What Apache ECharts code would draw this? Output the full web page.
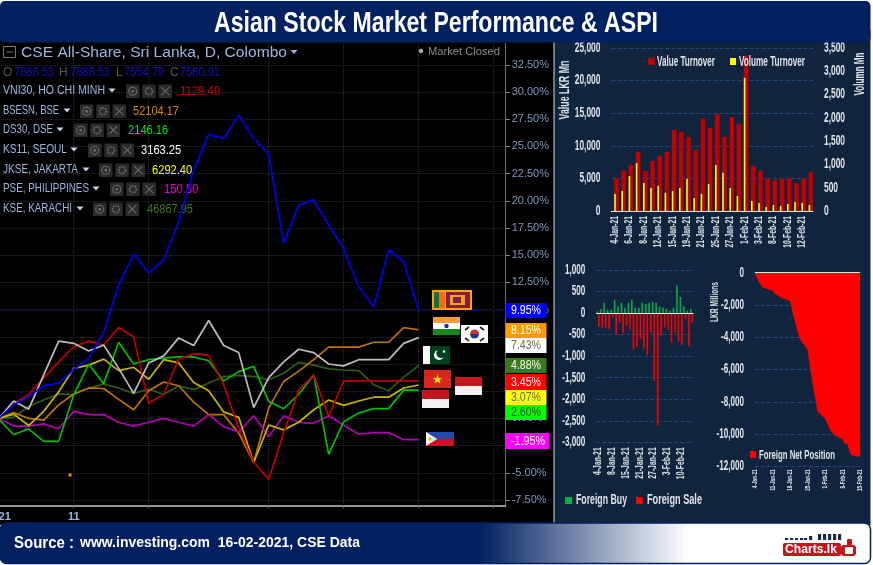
<!DOCTYPE html>
<html><head><meta charset="utf-8">
<style>html,body{margin:0;padding:0;background:#fff;overflow:hidden}#c{width:873px;height:565px}</style>
<script src="https://cdn.jsdelivr.net/npm/echarts@6/dist/echarts.min.js"></script>
</head><body><div id="c"></div>
<script>
// ---------- DATA ----------
const mainYTicks = [32.5,30,27.5,25,22.5,20,17.5,15,12.5,10,7.5,5,2.5,0,-2.5,-5,-7.5];
const mainXLabels = ['21','11'];
const cse   = [0,1.25,2,3,3.25,4.5,5.5,7.9,12.26,15.1,13.37,14.56,18.05,22.8,26.1,25.75,27.87,25.75,24.3,16.1,19.6,20.1,17.8,15.6,12.1,10.25,15.5,14.4,9.95];
const vni   = [0,1.35,2.2,3.7,5.2,6.6,7.1,6.75,8.35,7.5,1.4,2.2,5.45,5.95,5.8,3.1,-0.9,-4,-5.6,-1.35,2.6,4,0.2,3.45,3.45,3.45,3.45,3.45,3.45];
const bsesn = [0,0.55,0,-0.15,1.25,2.25,2.8,2.75,1.75,0.8,2.55,3.35,3,1.5,0.35,0.35,-1.35,-4.05,0.95,3.4,4.35,5.4,6.55,6.55,6.55,7,7,8.35,8.15];
const ds30  = [-0.05,-1.5,-0.95,-2.1,-2.1,2.15,5,3.2,7,5,5.4,5.55,5.65,5.65,5.3,3.45,4.3,4.8,1.55,0.9,2.2,4,-3.3,-0.3,0.5,0.9,0.9,2.6,2.6];
const ks11  = [0,1.6,0.85,4,7.1,6.9,6.2,6.75,4.6,2.3,5.1,5.75,7.4,6.7,9,6.7,6.05,1,3.75,5.2,6.36,6.05,5,4.83,5.4,5.4,5.4,6.9,7.43];
const jkse  = [0,0.4,-0.65,0.65,2.45,4.6,4.9,5.45,4.4,4.7,3.6,5.4,5.1,3.3,2.55,0.6,0.1,-4.05,-0.6,-1.05,-0.35,0.8,1.7,1.2,1.6,1.95,1.95,2.8,3.07];
const pse   = [0,-0.7,-0.7,-0.5,-0.95,0.65,0.35,0.35,-0.35,-0.7,-0.35,0,-0.35,-0.7,0.35,-0.75,-1.25,0.25,-1.65,0.25,-0.35,-0.45,0.25,-0.6,-1.45,-1.3,-1.3,-1.95,-1.95];
const kse   = [0,0.1,1.1,1.7,2.25,2.2,2.8,3.15,2.8,2.3,2.7,2.2,3,2.65,3.25,3.85,3.95,3.85,3.55,4.15,5.15,4.9,4.55,4.45,4.4,3.1,2.55,3.8,4.88];

const tradeDates = ['4-Jan-21','5-Jan-21','6-Jan-21','7-Jan-21','8-Jan-21','11-Jan-21','12-Jan-21','14-Jan-21','15-Jan-21','18-Jan-21','19-Jan-21','20-Jan-21','21-Jan-21','22-Jan-21','25-Jan-21','26-Jan-21','27-Jan-21','29-Jan-21','1-Feb-21','2-Feb-21','3-Feb-21','5-Feb-21','8-Feb-21','9-Feb-21','10-Feb-21','11-Feb-21','12-Feb-21','15-Feb-21'];
const valueTurnover = [5000,6200,7100,9050,6150,7700,8450,9050,12450,12150,11350,9350,14150,12750,14850,11350,14450,13350,23800,6900,6150,5000,4750,4950,5000,4300,5000,6000];
const volumeTurnover = [365,430,750,1030,600,495,540,390,430,495,690,280,365,580,990,820,495,320,2860,215,170,85,130,110,150,195,170,130];
const foreignBuy = [40,95,235,80,80,310,150,240,125,240,310,125,125,240,210,240,265,240,150,125,100,55,125,640,375,150,55,100];
const foreignSale = [-320,-350,-335,-380,-110,-505,-220,-460,-295,-380,-850,-790,-600,-825,-975,-450,-1575,-2610,-515,-330,-390,-685,-450,-660,-740,-130,-765,-225];
const netDates = ['4-Jan-21','5-Jan-21','6-Jan-21','7-Jan-21','8-Jan-21','9-Jan-21','10-Jan-21','11-Jan-21','12-Jan-21','13-Jan-21','14-Jan-21','15-Jan-21','16-Jan-21','17-Jan-21','18-Jan-21','19-Jan-21','20-Jan-21','21-Jan-21','22-Jan-21','23-Jan-21','24-Jan-21','25-Jan-21','26-Jan-21','27-Jan-21','28-Jan-21','29-Jan-21','30-Jan-21','31-Jan-21','1-Feb-21','2-Feb-21','3-Feb-21','4-Feb-21','5-Feb-21','6-Feb-21','7-Feb-21','8-Feb-21','9-Feb-21','10-Feb-21','11-Feb-21','12-Feb-21','13-Feb-21','14-Feb-21','15-Feb-21'];
const netPosition = [-50,-400,-680,-910,-970,null,null,-1120,-1320,null,-1500,-1590,null,null,-1750,-2450,-3040,-3680,-4130,null,null,-4770,-5860,-6860,null,-8600,null,null,-9050,-9400,-9750,null,-10100,null,null,-10330,-10640,-10600,-11200,-11330,null,null,-11420];
const valueTicks = [0,5000,10000,15000,20000,25000];
const volumeTicks = [0,500,1000,1500,2000,2500,3000,3500];
const flowTicks = [1000,500,0,-500,-1000,-1500,-2000,-2500,-3000];
const netTicks = [0,-2000,-4000,-6000,-8000,-10000,-12000];

const plain = '"Liberation Sans",Arial,sans-serif';
const navy = '#10243e', headerBlue = '#012060', dash = '#1f4a78', lbl = '#dfe4ea';

// ---------- HELPERS FOR DECORATION ----------
const mctx = document.createElement('canvas').getContext('2d');
const fitScale = (t,font,w)=>{mctx.font=font;return w/mctx.measureText(t).width;};
const g = [];
const rect = (x,y,w,h,fill,z=60,extra={}) => g.push({type:'rect',shape:{x,y,width:w,height:h,...(extra.shape||{})},style:{fill,...(extra.style||{})},z,silent:true});
// text squeezed to the pixel width
const text = (x,y,t,font,fill,w,z=60,extra={}) => g.push({type:'text',x,y,scaleX:w?fitScale(t,font,w):1,style:{text:t,font,fill,textVerticalAlign:'middle',textAlign:'left',...extra},z,silent:true});
const line = (x1,y1,x2,y2,stroke,w=1,z=60,dash_) => g.push({type:'line',shape:{x1,y1,x2,y2},style:{stroke,lineWidth:w,lineDash:dash_},z,silent:true});
const caret = (x,y,fill) => g.push({type:'polygon',shape:{points:[[x-3.5,y-2],[x+3.5,y-2],[x,y+2]]},style:{fill},z:60,silent:true});
const circ = (cx,cy,r,style,z=62)=>g.push({type:'circle',shape:{cx,cy,r},style,z,silent:true});
const vtext = (x,y,t,font,fill,len) => g.push({type:'text',x,y,rotation:Math.PI/2,scaleX:fitScale(t,font,len),style:{text:t,font,fill,textAlign:'center',textVerticalAlign:'middle'},z:60,silent:true});

// panels
rect(0,0,873,565,'#fff',-6);
rect(0,30,554,495,'#000',-5);
rect(554,30,316.5,495,navy,-4);
line(554,40,554,523,'#d8dde4',1,-3);
// header
rect(0,1,870.5,41.5,headerBlue,70,{shape:{r:5}});
text(214,24,'Asian Stock Market Performance & ASPI','bold 30px '+plain,'#fff',444,71);
// footer
g.push({type:'rect',shape:{x:0.5,y:523,width:870,height:40.5,r:6},style:{stroke:headerBlue,lineWidth:1.5,fill:{type:'linear',x:0,y:0,x2:1,y2:0,colorStops:[{offset:0,color:headerBlue},{offset:0.55,color:headerBlue},{offset:0.79,color:'#ffffff'},{offset:1,color:'#ffffff'}]}},z:70,silent:true});
text(14,543,'Source :','bold 17px '+plain,'#fff',60,71);
text(80,543,'www.investing.com  16-02-2021, CSE Data','bold 15px '+plain,'#fff',280,71);
// logo
[[785,2],[790,2],[795,2],[800,2],[804,2],[818,6],[823,6],[828,6],[833,6],[838,6],[809,4]].forEach(b=>rect(b[0],540-b[1],3.2,b[1],'#1f2a44',71));
rect(783,543,58,13,'#c4161c',71,{shape:{r:2}});
text(785,549.8,'Charts.lk','bold 13px '+plain,'#fff',52,72);
rect(841,545,15,11,'#c4161c',71,{shape:{r:3}});
rect(845,547,8,7,'#fff',72,{shape:{r:1}});
rect(847,539,5,7,'#c4161c',71,{shape:{r:1}});

// main panel text
rect(3.5,46.5,12,11,'rgba(0,0,0,0)',60,{style:{stroke:'#777',lineWidth:1}});
line(6,52,13,52,'#777',1);
text(21,52.5,'CSE All-Share, Sri Lanka, D, Colombo','15.5px '+plain,'#9db6df',266);
caret(294,52,'#9db6df');
circ(421,51,2.2,{fill:'#aaa'},60);
text(428,52,'Market Closed','11.5px '+plain,'#8c8c8c',72);
[['O',3,'7888.53',14],['H',59,'7888.53',70],['L',116,'7554.79',124],['C',170,'7580.91',180]].forEach(r=>{
  text(r[1],73,r[0],'12px '+plain,'#555');
  text(r[3],73,r[2],'12px '+plain,'#1010c0',40,3);
});
const rows = [
 ['VNI30, HO CHI MINH',91,102,112,126,180,'1129.49','#d00000'],
 ['BSESN, BSE',111,56,67,80,133,'52104.17','#d88a00'],
 ['DS30, DSE',130,50,60,74,128,'2146.16','#10e010'],
 ['KS11, SEOUL',150,64,74,88,141,'3163.25','#ffffff'],
 ['JKSE, JAKARTA',170,75,86,99,152,'6292.40','#ffff00'],
 ['PSE, PHILIPPINES',189,86,96,110,164,'150.50','#e000d0'],
 ['KSE, KARACHI',209,69,80,93,147,'46867.95','#3d7a1c']
];
rows.forEach(r=>{
  text(3,r[1],r[0],'12px '+plain,'#9db6df',r[2]);
  caret(r[3],r[1]-0.5,'#c4d4ec');
  for(let k=0;k<3;k++){
    const bx=r[4]+k*16.3;
    rect(bx,r[1]-6.5,13.5,13.5,'#2b2b2b');
    const cx=bx+6.7, cy=r[1]+0.2;
    if(k===0){circ(cx,cy,4,{fill:'none',stroke:'#6a6a6a',lineWidth:1.1},61);circ(cx,cy,1.5,{fill:'#6a6a6a'},61);}
    else if(k===1){circ(cx,cy,3.4,{fill:'none',stroke:'#6a6a6a',lineWidth:1.8,lineDash:[1.5,1]},61);}
    else {line(cx-4,cy-4,cx+4,cy+4,'#6a6a6a',1.1,61);line(cx-4,cy+4,cx+4,cy-4,'#6a6a6a',1.1,61);}
  }
  text(r[5],r[1]+0.5,r[6],'12px '+plain,r[7],r[6].length*5.75,3);
});
rect(68.5,473.5,3,3,'#e8940a',60);

// badges
[[303,41,15,'#0000ff','#fff','9.95%'],[323,41,15,'#ff9900','#fff','8.15%'],[338,41,15,'#ffffff','#666','7.43%'],
 [358,41,15,'#3a7a1a','#fff','4.88%'],[374,41,16,'#ff0000','#fff','3.45%'],[390,41,15,'#ffff00','#666','3.07%'],
 [405,41,15,'#00ff00','#444','2.60%'],[433,44,16,'#ff00ff','#fff','-1.95%']].forEach(b=>{
  rect(505.5,b[0],b[1],b[2],b[3],62);
  text(511,b[0]+b[2]/2+0.5,b[5],'12px '+plain,b[4],b[5].length===6?34:30,63);
});

// flags
function flagLK(x,y){rect(x,y,40,20,'#ffa500');rect(x+2,y+2,5,16,'#00734f',61);rect(x+7,y+2,6,16,'#ff6a13',61);rect(x+14,y+2,24,16,'#8d1b3d',61);rect(x+18,y+5,15,10,'#e8a81c',62);rect(x+21,y+7,8,6,'#8d1b3d',63);}
function flagIN(x,y){rect(x,y,27,6,'#ff9a3c');rect(x,y+6,27,6,'#fff');rect(x,y+12,27,6,'#148a1c');circ(x+13.5,y+9,2.2,{fill:'#2a2a90'});}
function flagKR(x,y){rect(x,y,27,18,'#fff');g.push({type:'sector',shape:{cx:x+13.5,cy:y+9,r:4.5,r0:0,startAngle:Math.PI,endAngle:2*Math.PI},style:{fill:'#cd2e3a'},z:62,silent:true});g.push({type:'sector',shape:{cx:x+13.5,cy:y+9,r:4.5,r0:0,startAngle:0,endAngle:Math.PI},style:{fill:'#0f3d8c'},z:62,silent:true});line(x+4,y+5,x+8,y+2,'#222',1.6,62);line(x+19,y+2,x+23,y+5,'#222',1.6,62);line(x+4,y+13,x+8,y+16,'#222',1.6,62);line(x+19,y+16,x+23,y+13,'#222',1.6,62);}
function flagPK(x,y){rect(x,y,7,18,'#fff');rect(x+7,y,20,18,'#01411c');circ(x+16,y+9,5,{fill:'#fff'});circ(x+18,y+7.5,4.6,{fill:'#01411c'},63);circ(x+21,y+5.5,1.2,{fill:'#fff'},64);}
function flagVN(x,y){rect(x,y,27,18,'#da251d');const pts=[];for(let k=0;k<10;k++){const R=k%2?2:5,a=-Math.PI/2+k*Math.PI/5;pts.push([x+13.5+R*Math.cos(a),y+9.5+R*Math.sin(a)]);}g.push({type:'polygon',shape:{points:pts},style:{fill:'#ffe000'},z:62,silent:true});}
function flagID(x,y){rect(x,y,27,9,'#c4161c');rect(x,y+9,27,9,'#f2f2f2');}
function flagPH(x,y){rect(x,y,28,7,'#2449a8');rect(x,y+7,28,7,'#ce1126');g.push({type:'polygon',shape:{points:[[x,y],[x+11,y+7],[x,y+14]]},style:{fill:'#fff'},z:62,silent:true});circ(x+4,y+7,2,{fill:'#f5c518'},63);}
flagLK(432,290);flagIN(433,317);flagKR(461,325);flagPK(423,346);flagVN(424,370);flagID(455,377);flagID(422,390);flagPH(426,432);

// legends and axis titles of the panels
const legendFont='bold 14px '+plain;
rect(648,58,7,7,'#c00000');text(657,62,'Value Turnover',legendFont,lbl,58);
rect(730,58,6,7,'#ffff00');text(739,62,'Volume Turnover',legendFont,lbl,66);
rect(565,497,7,7,'#00b050');text(576,500.5,'Foreign Buy',legendFont,lbl,51);
rect(636,497,7,7,'#ff0000');text(647,500.5,'Foreign Sale',legendFont,lbl,55);
rect(750,451,6,7,'#ff0000');text(759,455,'Foreign Net Position','bold 13px '+plain,lbl,76);
vtext(565,90,'Value LKR Mn','bold 14px '+plain,lbl,59);
vtext(860,74,'Volumn Mn','bold 14px '+plain,lbl,43);
vtext(715,302,'LKR Millions','bold 11px '+plain,lbl,40);

// ---------- CHART ----------
const lineS = (name,data,color)=>({name,type:'line',xAxisIndex:0,yAxisIndex:0,data:data.map((v,i)=>[i,v]),showSymbol:false,symbol:'none',lineStyle:{color,width:1.7},itemStyle:{color},silent:true,clip:false,z:3});
const numFmt = v=>Number(v).toLocaleString('en-US');
// tick labels squeezed to the reference's condensed face, placed through the axes' own scales
const yLabels = (xi,yi,ticks,side,fontPx,sx,gap=11)=>({type:'custom',xAxisIndex:xi,yAxisIndex:yi,silent:true,z:5,clip:false,
  data:ticks.map(t=>[0,t]),
  renderItem:(p,api)=>{const c=p.coordSys,y=api.coord([0,api.value(1)])[1];
    return {type:'text',x:side==='left'?c.x-gap:c.x+c.width+gap,y,scaleX:sx,
      style:{text:numFmt(api.value(1)),font:'bold '+fontPx+'px '+plain,fill:lbl,textAlign:side==='left'?'right':'left',textVerticalAlign:'middle'}};}});
const xLabels = (xi,yi,names,step,fontPx,sx,gap)=>({type:'custom',xAxisIndex:xi,yAxisIndex:yi,silent:true,z:5,clip:false,
  data:names.map((n,i)=>i).filter(i=>i%step===0).map(i=>[i,0]),
  renderItem:(p,api)=>{const c=p.coordSys,x=api.coord([api.value(0),0])[0];
    return {type:'text',x,y:c.y+c.height+gap,rotation:Math.PI/2,scaleX:sx,
      style:{text:names[api.value(0)],font:'bold '+fontPx+'px '+plain,fill:lbl,textAlign:'right',textVerticalAlign:'middle'}};}});
const hidden = {axisLine:{show:false},axisTick:{show:false},axisLabel:{show:false}};
const option = {
  animation:false,backgroundColor:'#000',
  graphic:{elements:g},
  grid:[
    {left:-1.3,top:43,width:507,height:462.5,outerBoundsMode:'none'},
    {left:611.4,top:48,width:201.6,height:163,outerBoundsMode:'none'},
    {left:596.3,top:270,width:97,height:172.3,outerBoundsMode:'none'},
    {left:755,top:272.7,width:105,height:193.6,outerBoundsMode:'none'}
  ],
  xAxis:[
    {gridIndex:0,type:'value',min:0,max:33.8,
     axisLine:{show:true,onZero:false,lineStyle:{color:'#c8c8c8',width:1.5}},
     axisTick:{show:true,length:3,lineStyle:{color:'#666'},customValues:[5,10,18,23,28,33]},
     axisLabel:{customValues:[0.4,5],color:'#9db6df',fontFamily:plain,fontWeight:'bold',fontSize:11,margin:6,formatter:v=>v<1?mainXLabels[0]:mainXLabels[1]},
     splitLine:{show:true,lineStyle:{color:'#2e2e2e',type:'dotted'}}},
    {gridIndex:1,type:'category',data:tradeDates,axisLine:{lineStyle:{color:'#e8e8e8',width:1}},axisTick:{show:false},axisLabel:{show:false}},
    {gridIndex:2,type:'category',data:tradeDates,...hidden,axisLine:{show:false,onZero:false}},
    {gridIndex:3,type:'category',data:netDates,boundaryGap:false,...hidden,axisLine:{show:false,onZero:false}}
  ],
  yAxis:[
    {gridIndex:0,type:'value',position:'right',min:-8,max:34.5,
     axisLine:{show:true,onZero:false,lineStyle:{color:'#6e6e6e'}},
     axisTick:{show:true,length:4,lineStyle:{color:'#8a8a8a'},customValues:mainYTicks},
     axisLabel:{customValues:mainYTicks,color:'#7f96bd',fontFamily:plain,fontSize:11,margin:6,formatter:v=>v.toFixed(2)+'%'},
     splitLine:{show:true,lineStyle:{color:'#2e2e2e',type:'dotted',width:1}}},
    {gridIndex:1,type:'value',min:0,max:25000,interval:5000,...hidden,splitLine:{lineStyle:{color:dash,type:'dashed'}}},
    {gridIndex:1,type:'value',position:'right',min:0,max:3500,interval:500,...hidden,splitLine:{show:false}},
    {gridIndex:2,type:'value',min:-3000,max:1000,interval:500,...hidden,splitLine:{lineStyle:{color:dash,type:'dashed'}}},
    {gridIndex:3,type:'value',min:-12000,max:0,interval:2000,...hidden,splitLine:{lineStyle:{color:dash,type:'dashed'}}}
  ],
  series:[
    lineS('KSE',kse,'#2f5c12'),lineS('BSESN',bsesn,'#bf7300'),lineS('PSE',pse,'#b300b3'),
    lineS('JKSE',jkse,'#c9b400'),lineS('DS30',ds30,'#00bf00'),lineS('VNI30',vni,'#bf0000'),
    lineS('KS11',ks11,'#bdbdbd'),lineS('CSE',cse,'#0000f0'),
    {type:'line',xAxisIndex:0,yAxisIndex:0,data:[],symbol:'none',silent:true,
     markLine:{silent:true,symbol:'none',animation:false,label:{show:false},lineStyle:{color:'#0000a0',type:'dotted',width:1},data:[{yAxis:cse[cse.length-1]}]}},
    {name:'Value Turnover',type:'bar',xAxisIndex:1,yAxisIndex:1,data:valueTurnover,barWidth:4.6,barGap:'-100%',itemStyle:{color:'#c00000'},silent:true},
    {name:'Volume Turnover',type:'bar',xAxisIndex:1,yAxisIndex:2,data:volumeTurnover,barWidth:1.6,barGap:'-100%',itemStyle:{color:'#ffff00'},silent:true},
    {name:'Foreign Buy',type:'bar',xAxisIndex:2,yAxisIndex:3,data:foreignBuy,barWidth:1.6,barGap:'0%',itemStyle:{color:'#00b050'},silent:true},
    {name:'Foreign Sale',type:'bar',xAxisIndex:2,yAxisIndex:3,data:foreignSale,barWidth:1.6,barGap:'0%',itemStyle:{color:'#ff0000'},silent:true,
     markLine:{silent:true,symbol:'none',animation:false,label:{show:false},lineStyle:{color:'#e8e8e8',type:'solid',width:1},data:[{yAxis:0}]}},
    {name:'Foreign Net Position',type:'line',xAxisIndex:3,yAxisIndex:4,data:netPosition,connectNulls:true,symbol:'none',showSymbol:false,
     lineStyle:{width:0},itemStyle:{color:'#ff0000'},areaStyle:{color:'#ff0000',origin:'end',opacity:1},silent:true,
     markLine:{silent:true,symbol:'none',animation:false,label:{show:false},lineStyle:{color:'#dfe4ea',type:'solid',width:1},data:[{yAxis:0}]}},
    yLabels(1,1,valueTicks,'left',14,0.6),
    yLabels(1,2,volumeTicks,'right',14,0.6),
    yLabels(2,3,flowTicks,'left',14,0.58),
    yLabels(3,4,netTicks,'left',14,0.58),
    xLabels(1,1,tradeDates,2,11,0.62,5),
    xLabels(2,3,tradeDates,4,11,0.62,5),
    xLabels(3,4,netDates,7,8,0.58,3)
  ]
};
const chart = echarts.init(document.getElementById('c'),null,{renderer:'canvas',width:873,height:565});
chart.setOption(option);
</script></body></html>
